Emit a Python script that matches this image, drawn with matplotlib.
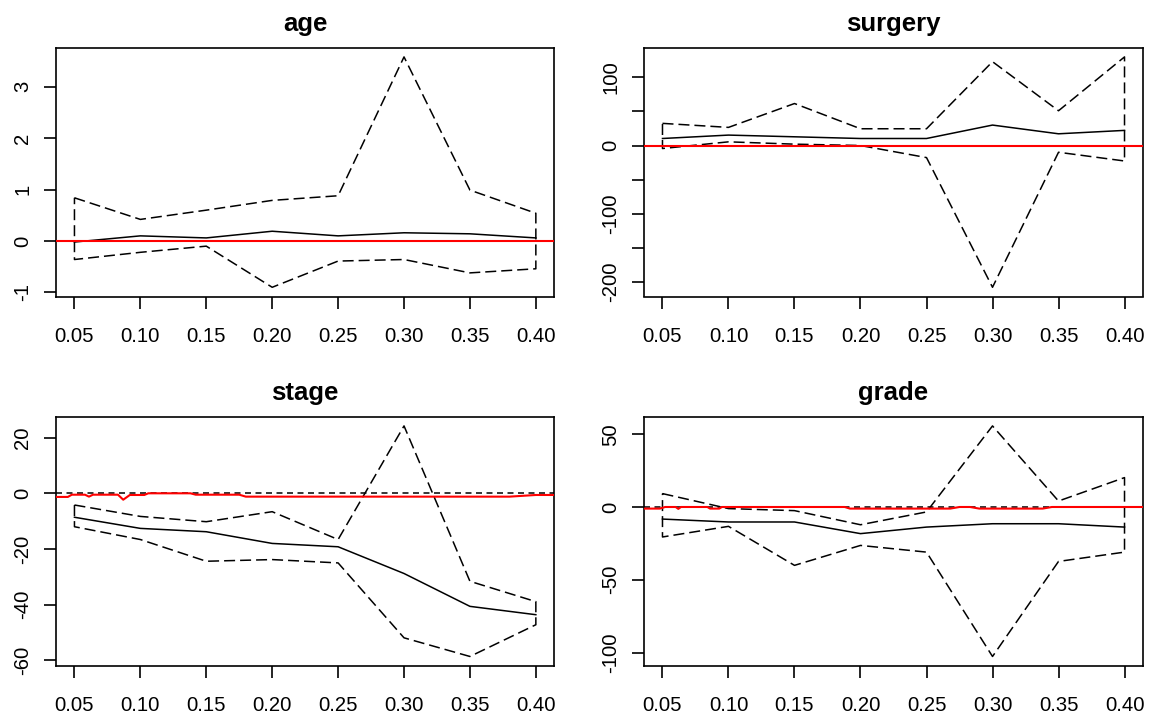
import numpy as np
import matplotlib
matplotlib.use("Agg")
import matplotlib.pyplot as plt

plt.rcParams['font.family'] = ['Liberation Sans', 'DejaVu Sans']
plt.rcParams['lines.scale_dashes'] = False

# ---- data ----
quantiles = [0.05, 0.10, 0.15, 0.20, 0.25, 0.30, 0.35, 0.40]
tick_labels = ["0.05", "0.10", "0.15", "0.20", "0.25", "0.30", "0.35", "0.40"]

age_est = [-0.02, 0.10, 0.06, 0.19, 0.10, 0.16, 0.14, 0.06]
age_upper = [0.84, 0.42, 0.60, 0.79, 0.88, 3.58, 0.99, 0.54]
age_lower = [-0.36, -0.22, -0.10, -0.90, -0.39, -0.36, -0.62, -0.54]

surgery_est = [10.3, 15.3, 12.8, 10.3, 10.3, 30.0, 17.2, 22.2]
surgery_upper = [32.5, 26.6, 61.6, 24.6, 24.6, 123.0, 51.0, 130.0]
surgery_lower = [-4.4, 5.4, 2.0, 0.0, -17.7, -208.0, -9.9, -22.7]

stage_est = [-8.6, -12.6, -13.8, -18.0, -19.2, -28.8, -40.6, -43.6]
stage_upper = [-4.2, -8.3, -10.2, -6.6, -16.6, 24.2, -31.6, -38.9]
stage_lower = [-12.0, -16.6, -24.4, -23.8, -25.0, -51.9, -58.6, -47.2]

grade_est = [-8.3, -10.3, -10.3, -18.3, -13.8, -11.5, -11.5, -13.8]
grade_upper = [9.2, -1.1, -2.5, -12.2, -3.4, 55.7, 4.1, 20.2]
grade_lower = [-20.6, -13.3, -40.1, -26.4, -31.0, -102.7, -37.4, -31.0]

# red reference curves
age_red_x = [0.036, 0.414]
age_red_y = [0.0, 0.0]
surgery_red_x = [0.036, 0.414]
surgery_red_y = [0.0, 0.0]
stage_red_x = [0.036, 0.045, 0.048, 0.058, 0.061, 0.064, 0.083, 0.087, 0.092,
               0.103, 0.106, 0.138, 0.142, 0.175, 0.180, 0.380, 0.400, 0.414]
stage_red_y = [-1.3, -1.3, -0.5, -0.5, -1.2, -0.5, -0.5, -2.3, -0.6,
               -0.6, 0.0, 0.0, -0.5, -0.5, -1.2, -1.2, -0.6, -0.6]
grade_red_x = [0.036, 0.048, 0.052, 0.060, 0.062, 0.064, 0.084, 0.086, 0.093,
               0.095, 0.188, 0.192, 0.268, 0.275, 0.283, 0.290, 0.338, 0.345, 0.414]
grade_red_y = [-1.1, -1.1, 0.0, 0.0, -1.3, 0.0, 0.0, -1.1, -1.1,
               0.0, 0.0, -1.1, -1.1, 0.0, 0.0, -1.1, -1.1, 0.0, 0.0]

panels = [
    ("age", age_est, age_upper, age_lower, age_red_x, age_red_y,
     [-1, 0, 1, 2, 3], ["-1", "0", "1", "2", "3"]),
    ("surgery", surgery_est, surgery_upper, surgery_lower, surgery_red_x, surgery_red_y,
     [-200, -150, -100, -50, 0, 50, 100], ["-200", "", "-100", "", "0", "", "100"]),
    ("stage", stage_est, stage_upper, stage_lower, stage_red_x, stage_red_y,
     [-60, -40, -20, 0, 20], ["-60", "-40", "-20", "0", "20"]),
    ("grade", grade_est, grade_upper, grade_lower, grade_red_x, grade_red_y,
     [-100, -50, 0, 50], ["-100", "-50", "0", "50"]),
]

W, H = 1165, 723
fig = plt.figure(figsize=(W / 100, H / 100), dpi=100)

# axes rectangles in pixels: (left, top, right, bottom)
rects = [(56, 47.7, 554.3, 296.5), (644, 47.7, 1143, 296.5),
         (56, 416.7, 554.3, 665.7), (644, 416.7, 1143, 665.7)]

px2pt = 72 / 100
for (name, est, up, lo, rx, ry, yt, ytl), (l, t, r, b) in zip(panels, rects):
    ax = fig.add_axes([l / W, 1 - b / H, (r - l) / W, (b - t) / H])
    x = np.array(quantiles)
    up = np.array(up); lo = np.array(lo); est = np.array(est)
    # zero dashed line
    ax.axhline(0, color="black", lw=1.1, dashes=(6 * px2pt, 4.5 * px2pt), zorder=2)
    # confidence polygon (closed)
    px = np.concatenate([x, x[::-1], x[:1]])
    py = np.concatenate([up, lo[::-1], up[:1]])
    ax.plot(px, py, color="black", lw=1.1, dashes=(11 * px2pt, 5 * px2pt), zorder=3)
    ax.plot(x, est, color="black", lw=1.1, zorder=3)
    ax.plot(rx, ry, color="#ff0000", lw=1.5, zorder=4)

    rng = max(up.max(), est.max()) - min(lo.min(), est.min())
    ax.set_ylim(min(lo.min(), est.min()) - 0.04 * rng, max(up.max(), est.max()) + 0.04 * rng)
    ax.set_xlim(0.05 - 0.04 * 0.35, 0.40 + 0.04 * 0.35)
    ax.set_xticks(quantiles)
    ax.set_xticklabels(tick_labels)
    ax.set_yticks(yt)
    ax.set_yticklabels(ytl, rotation=90, va="center")
    for s in ax.spines.values():
        s.set_linewidth(1.2)
    ax.tick_params(axis="x", length=12 * px2pt, width=1.2, pad=13, labelsize=14.6)
    ax.tick_params(axis="y", length=12 * px2pt, width=1.2, pad=8.4, labelsize=14.6)
    ax.set_title(name, fontsize=18.5, fontweight="bold", pad=11.7)

fig.savefig("out.png", dpi=100)
